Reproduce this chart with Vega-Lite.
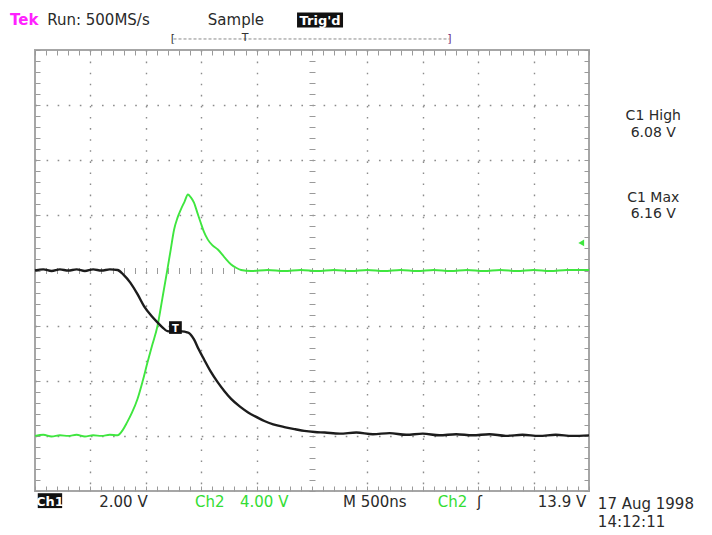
{
  "$schema": "https://vega.github.io/schema/vega-lite/v6.json",
  "width": 554,
  "height": 441,
  "autosize": {"type": "none"},
  "padding": {"left": 35, "top": 50, "right": 123, "bottom": 44},
  "background": "white",
  "config": {
    "view": {"stroke": "#a6a6a6", "strokeWidth": 2},
    "axis": {"labels": false, "title": null, "domain": false, "ticks": false, "grid": false},
    "text": {"font": "DejaVu Sans"}
  },
  "datasets": {
    "ch1": [
      {"t": 0, "v": 0.0}, {"t": 0.15, "v": 0.02}, {"t": 0.3, "v": -0.01}, {"t": 0.45, "v": 0.02}, {"t": 0.6, "v": 0.0},
      {"t": 0.75, "v": 0.02}, {"t": 0.9, "v": -0.01}, {"t": 1.05, "v": 0.02}, {"t": 1.2, "v": 0.0}, {"t": 1.35, "v": 0.02},
      {"t": 1.49, "v": 0.01}, {"t": 1.6, "v": -0.08}, {"t": 1.72, "v": -0.22}, {"t": 1.85, "v": -0.43}, {"t": 1.97, "v": -0.65},
      {"t": 2.1, "v": -0.82}, {"t": 2.21, "v": -0.94}, {"t": 2.3, "v": -1.03}, {"t": 2.39, "v": -1.1}, {"t": 2.5, "v": -1.11},
      {"t": 2.6, "v": -1.1}, {"t": 2.7, "v": -1.11}, {"t": 2.77, "v": -1.13}, {"t": 2.87, "v": -1.25}, {"t": 2.95, "v": -1.42},
      {"t": 3.05, "v": -1.61}, {"t": 3.17, "v": -1.83}, {"t": 3.3, "v": -2.03}, {"t": 3.42, "v": -2.19}, {"t": 3.54, "v": -2.33},
      {"t": 3.7, "v": -2.47}, {"t": 3.84, "v": -2.57}, {"t": 4.0, "v": -2.66}, {"t": 4.14, "v": -2.73}, {"t": 4.3, "v": -2.79},
      {"t": 4.5, "v": -2.84}, {"t": 4.7, "v": -2.88}, {"t": 4.86, "v": -2.91}, {"t": 5.05, "v": -2.93}, {"t": 5.23, "v": -2.94},
      {"t": 5.5, "v": -2.96}, {"t": 5.8, "v": -2.94}, {"t": 6.1, "v": -2.97}, {"t": 6.4, "v": -2.95}, {"t": 6.7, "v": -2.98},
      {"t": 7.0, "v": -2.96}, {"t": 7.3, "v": -2.99}, {"t": 7.6, "v": -2.97}, {"t": 7.9, "v": -2.99}, {"t": 8.2, "v": -2.97},
      {"t": 8.5, "v": -3.0}, {"t": 8.8, "v": -2.98}, {"t": 9.1, "v": -3.0}, {"t": 9.4, "v": -2.98}, {"t": 9.7, "v": -3.0},
      {"t": 10.0, "v": -2.99}
    ],
    "ch2": [
      {"t": 0, "v": -3.0}, {"t": 0.15, "v": -2.98}, {"t": 0.3, "v": -3.01}, {"t": 0.45, "v": -2.99}, {"t": 0.6, "v": -3.0},
      {"t": 0.75, "v": -2.98}, {"t": 0.9, "v": -3.01}, {"t": 1.05, "v": -2.99}, {"t": 1.2, "v": -3.0}, {"t": 1.35, "v": -2.98},
      {"t": 1.49, "v": -2.99}, {"t": 1.58, "v": -2.9}, {"t": 1.66, "v": -2.76}, {"t": 1.75, "v": -2.58}, {"t": 1.85, "v": -2.33},
      {"t": 1.94, "v": -2.02}, {"t": 2.03, "v": -1.67}, {"t": 2.12, "v": -1.34}, {"t": 2.21, "v": -1.01}, {"t": 2.3, "v": -0.5},
      {"t": 2.39, "v": 0.02}, {"t": 2.45, "v": 0.38}, {"t": 2.51, "v": 0.74}, {"t": 2.57, "v": 0.95}, {"t": 2.63, "v": 1.1},
      {"t": 2.7, "v": 1.25}, {"t": 2.76, "v": 1.38}, {"t": 2.81, "v": 1.33}, {"t": 2.87, "v": 1.23}, {"t": 2.93, "v": 1.05},
      {"t": 2.99, "v": 0.87}, {"t": 3.05, "v": 0.7}, {"t": 3.12, "v": 0.56}, {"t": 3.2, "v": 0.46}, {"t": 3.3, "v": 0.38},
      {"t": 3.42, "v": 0.24}, {"t": 3.54, "v": 0.11}, {"t": 3.63, "v": 0.05}, {"t": 3.72, "v": 0.01}, {"t": 3.9, "v": -0.01},
      {"t": 4.2, "v": 0.01}, {"t": 4.5, "v": -0.01}, {"t": 4.8, "v": 0.01}, {"t": 5.1, "v": -0.01}, {"t": 5.4, "v": 0.01},
      {"t": 5.7, "v": -0.01}, {"t": 6.0, "v": 0.01}, {"t": 6.3, "v": -0.01}, {"t": 6.6, "v": 0.01}, {"t": 6.9, "v": -0.01},
      {"t": 7.2, "v": 0.01}, {"t": 7.5, "v": -0.01}, {"t": 7.8, "v": 0.01}, {"t": 8.1, "v": -0.01}, {"t": 8.4, "v": 0.01},
      {"t": 8.7, "v": -0.01}, {"t": 9.0, "v": 0.01}, {"t": 9.3, "v": -0.01}, {"t": 9.6, "v": 0.01}, {"t": 10.0, "v": 0.01}
    ],
    "darkLeft": [
      {"label": "Run: 500MS/s", "x": 0.22, "y": 4.445},
      {"label": "Sample", "x": 3.12, "y": 4.445},
      {"label": "2.00 V", "x": 1.16, "y": -4.29},
      {"label": "M  500ns", "x": 5.56, "y": -4.29},
      {"label": "ʃ", "x": 7.98, "y": -4.29},
      {"label": "17 Aug 1998", "x": 10.16, "y": -4.33},
      {"label": "14:12:11", "x": 10.16, "y": -4.66}
    ],
    "darkRight": [
      {"label": "13.9 V", "x": 9.95, "y": -4.29}
    ],
    "darkCenter": [
      {"label": "C1 High", "x": 11.16, "y": 2.73},
      {"label": "6.08 V", "x": 11.16, "y": 2.42},
      {"label": "C1 Max", "x": 11.16, "y": 1.24},
      {"label": "6.16 V", "x": 11.16, "y": 0.95}
    ],
    "greenLeft": [
      {"label": "Ch2", "x": 2.89, "y": -4.29},
      {"label": "4.00 V", "x": 3.7, "y": -4.29},
      {"label": "Ch2", "x": 7.27, "y": -4.29}
    ],
    "tek": [{"label": "Tek", "x": -0.45, "y": 4.445}],
    "boxes": [
      {"x": 4.73, "x2": 5.56, "y": 4.68, "y2": 4.41},
      {"x": 0.05, "x2": 0.49, "y": -4.04, "y2": -4.31},
      {"x": 2.42, "x2": 2.65, "y": -0.92, "y2": -1.15}
    ],
    "boxText": [
      {"label": "Trig'd", "x": 5.145, "y": 4.45},
      {"label": "Ch1", "x": 0.27, "y": -4.27}
    ],
    "markerT": [{"label": "T", "x": 2.535, "y": -1.11}],
    "bar": [{"x": 2.5, "x2": 7.48, "y": 4.2}],
    "barText": [
      {"label": "[", "x": 2.45, "y": 4.15, "side": "open"},
      {"label": "]", "x": 7.44, "y": 4.15, "side": "close"},
      {"label": "T", "x": 3.73, "y": 4.16, "side": "trig"}
    ],
    "arrow": [{"x": 9.86, "y": 0.5}]
  },
  "resolve": {"axis": {"x": "independent", "y": "independent"}},
  "layer": [
    {
      "mark": {"type": "rule", "color": "#b4b4b4", "strokeWidth": 1},
      "encoding": {
        "x": {"datum": 5, "type": "quantitative", "scale": {"domain": [0, 10], "nice": false, "zero": false},
          "axis": {"orient": "top", "ticks": true, "tickSize": -5, "tickColor": "#9a9a9a", "tickWidth": 1,
            "values": [0,0.2,0.4,0.6,0.8,1,1.2,1.4,1.6,1.8,2,2.2,2.4,2.6,2.8,3,3.2,3.4,3.6,3.8,4,4.2,4.4,4.6,4.8,5,5.2,5.4,5.6,5.8,6,6.2,6.4,6.6,6.8,7,7.2,7.4,7.6,7.8,8,8.2,8.4,8.6,8.8,9,9.2,9.4,9.6,9.8,10]}}
      }
    },
    {
      "mark": {"type": "rule", "color": "#b4b4b4", "strokeWidth": 1},
      "encoding": {
        "y": {"datum": 0, "type": "quantitative", "scale": {"domain": [-4, 4], "nice": false, "zero": false},
          "axis": {"orient": "right", "ticks": true, "tickSize": -5, "tickColor": "#9a9a9a", "tickWidth": 1,
            "values": [-4,-3.8,-3.6,-3.4,-3.2,-3,-2.8,-2.6,-2.4,-2.2,-2,-1.8,-1.6,-1.4,-1.2,-1,-0.8,-0.6,-0.4,-0.2,0,0.2,0.4,0.6,0.8,1,1.2,1.4,1.6,1.8,2,2.2,2.4,2.6,2.8,3,3.2,3.4,3.6,3.8,4]}}
      }
    },
    {
      "data": {"name": "ch2"},
      "mark": {"type": "line", "color": "#3fe63f", "strokeWidth": 1.9, "interpolate": "monotone"},
      "encoding": {
        "x": {"field": "t", "type": "quantitative",
          "axis": {"orient": "bottom", "grid": true, "gridDash": [1.6, 9.48], "gridColor": "#8c8c8c", "gridWidth": 1.4, "values": [1,2,3,4,6,7,8,9]}},
        "y": {"field": "v", "type": "quantitative",
          "axis": {"orient": "left", "grid": true, "gridDash": [1.6, 9.48], "gridColor": "#8c8c8c", "gridWidth": 1.4, "values": [-3,-2,-1,1,2,3]}}
      }
    },
    {
      "data": {"name": "ch1"},
      "mark": {"type": "line", "color": "#1c1c1c", "strokeWidth": 2.4, "interpolate": "monotone"},
      "encoding": {
        "x": {"field": "t", "type": "quantitative",
          "axis": {"orient": "bottom", "ticks": true, "tickSize": -5, "tickColor": "#9a9a9a", "tickWidth": 1,
            "values": [0,0.2,0.4,0.6,0.8,1,1.2,1.4,1.6,1.8,2,2.2,2.4,2.6,2.8,3,3.2,3.4,3.6,3.8,4,4.2,4.4,4.6,4.8,5,5.2,5.4,5.6,5.8,6,6.2,6.4,6.6,6.8,7,7.2,7.4,7.6,7.8,8,8.2,8.4,8.6,8.8,9,9.2,9.4,9.6,9.8,10]}},
        "y": {"field": "v", "type": "quantitative",
          "axis": {"orient": "left", "ticks": true, "tickSize": -5, "tickColor": "#9a9a9a", "tickWidth": 1,
            "values": [-4,-3.8,-3.6,-3.4,-3.2,-3,-2.8,-2.6,-2.4,-2.2,-2,-1.8,-1.6,-1.4,-1.2,-1,-0.8,-0.6,-0.4,-0.2,0,0.2,0.4,0.6,0.8,1,1.2,1.4,1.6,1.8,2,2.2,2.4,2.6,2.8,3,3.2,3.4,3.6,3.8,4]}}
      }
    },
    {
      "data": {"name": "arrow"},
      "mark": {"type": "point", "shape": "triangle-left", "filled": true, "color": "#3fe63f", "size": 45, "opacity": 1},
      "encoding": {
        "x": {"field": "x", "type": "quantitative",
          "axis": {"orient": "bottom", "offset": -223.5, "ticks": true, "tickSize": 6, "tickColor": "#9a9a9a", "tickWidth": 1,
            "values": [0,0.2,0.4,0.6,0.8,1,1.2,1.4,1.6,1.8,2,2.2,2.4,2.6,2.8,3,3.2,3.4,3.6,3.8,4,4.2,4.4,4.6,4.8,5,5.2,5.4,5.6,5.8,6,6.2,6.4,6.6,6.8,7,7.2,7.4,7.6,7.8,8,8.2,8.4,8.6,8.8,9,9.2,9.4,9.6,9.8,10]}},
        "y": {"field": "y", "type": "quantitative",
          "axis": {"orient": "left", "offset": -280, "ticks": true, "tickSize": 6, "tickColor": "#9a9a9a", "tickWidth": 1,
            "values": [-4,-3.8,-3.6,-3.4,-3.2,-3,-2.8,-2.6,-2.4,-2.2,-2,-1.8,-1.6,-1.4,-1.2,-1,-0.8,-0.6,-0.4,-0.2,0,0.2,0.4,0.6,0.8,1,1.2,1.4,1.6,1.8,2,2.2,2.4,2.6,2.8,3,3.2,3.4,3.6,3.8,4]}}
      }
    },
    {
      "data": {"name": "boxes"},
      "mark": {"type": "rect", "color": "#111111"},
      "encoding": {
        "x": {"field": "x", "type": "quantitative", "axis": null},
        "x2": {"field": "x2"},
        "y": {"field": "y", "type": "quantitative", "axis": null},
        "y2": {"field": "y2"}
      }
    },
    {
      "data": {"name": "boxText"},
      "mark": {"type": "text", "color": "white", "fontSize": 13, "fontWeight": "bold", "align": "center", "baseline": "alphabetic"},
      "encoding": {
        "x": {"field": "x", "type": "quantitative", "axis": null},
        "y": {"field": "y", "type": "quantitative", "axis": null},
        "text": {"field": "label"}
      }
    },
    {
      "data": {"name": "markerT"},
      "mark": {"type": "text", "color": "white", "fontSize": 10, "fontWeight": "bold", "align": "center", "baseline": "alphabetic"},
      "encoding": {
        "x": {"field": "x", "type": "quantitative", "axis": null},
        "y": {"field": "y", "type": "quantitative", "axis": null},
        "text": {"field": "label"}
      }
    },
    {
      "data": {"name": "bar"},
      "mark": {"type": "rule", "color": "#8a8a8a", "strokeWidth": 1, "strokeDash": [3, 2]},
      "encoding": {
        "x": {"field": "x", "type": "quantitative", "axis": null},
        "x2": {"field": "x2"},
        "y": {"field": "y", "type": "quantitative", "axis": null}
      }
    },
    {
      "data": {"name": "barText"},
      "mark": {"type": "text", "fontSize": 11, "align": "left", "baseline": "alphabetic"},
      "encoding": {
        "x": {"field": "x", "type": "quantitative", "axis": null},
        "y": {"field": "y", "type": "quantitative", "axis": null},
        "text": {"field": "label"},
        "color": {"field": "side", "type": "nominal", "legend": null,
          "scale": {"domain": ["open", "close", "trig"], "range": ["#333333", "#6a2a7a", "#333333"]}}
      }
    },
    {
      "data": {"name": "darkLeft"},
      "mark": {"type": "text", "color": "#2a2a2a", "fontSize": 15, "align": "left", "baseline": "alphabetic"},
      "encoding": {
        "x": {"field": "x", "type": "quantitative", "axis": null},
        "y": {"field": "y", "type": "quantitative", "axis": null},
        "text": {"field": "label"}
      }
    },
    {
      "data": {"name": "darkRight"},
      "mark": {"type": "text", "color": "#2a2a2a", "fontSize": 15, "align": "right", "baseline": "alphabetic"},
      "encoding": {
        "x": {"field": "x", "type": "quantitative", "axis": null},
        "y": {"field": "y", "type": "quantitative", "axis": null},
        "text": {"field": "label"}
      }
    },
    {
      "data": {"name": "darkCenter"},
      "mark": {"type": "text", "color": "#2a2a2a", "fontSize": 14, "align": "center", "baseline": "alphabetic"},
      "encoding": {
        "x": {"field": "x", "type": "quantitative", "axis": null},
        "y": {"field": "y", "type": "quantitative", "axis": null},
        "text": {"field": "label"}
      }
    },
    {
      "data": {"name": "greenLeft"},
      "mark": {"type": "text", "color": "#33dd33", "fontSize": 15, "align": "left", "baseline": "alphabetic"},
      "encoding": {
        "x": {"field": "x", "type": "quantitative", "axis": null},
        "y": {"field": "y", "type": "quantitative", "axis": null},
        "text": {"field": "label"}
      }
    },
    {
      "data": {"name": "tek"},
      "mark": {"type": "text", "color": "#ff22ff", "fontSize": 15, "fontWeight": "bold", "align": "left", "baseline": "alphabetic"},
      "encoding": {
        "x": {"field": "x", "type": "quantitative", "axis": null},
        "y": {"field": "y", "type": "quantitative", "axis": null},
        "text": {"field": "label"}
      }
    }
  ]
}
